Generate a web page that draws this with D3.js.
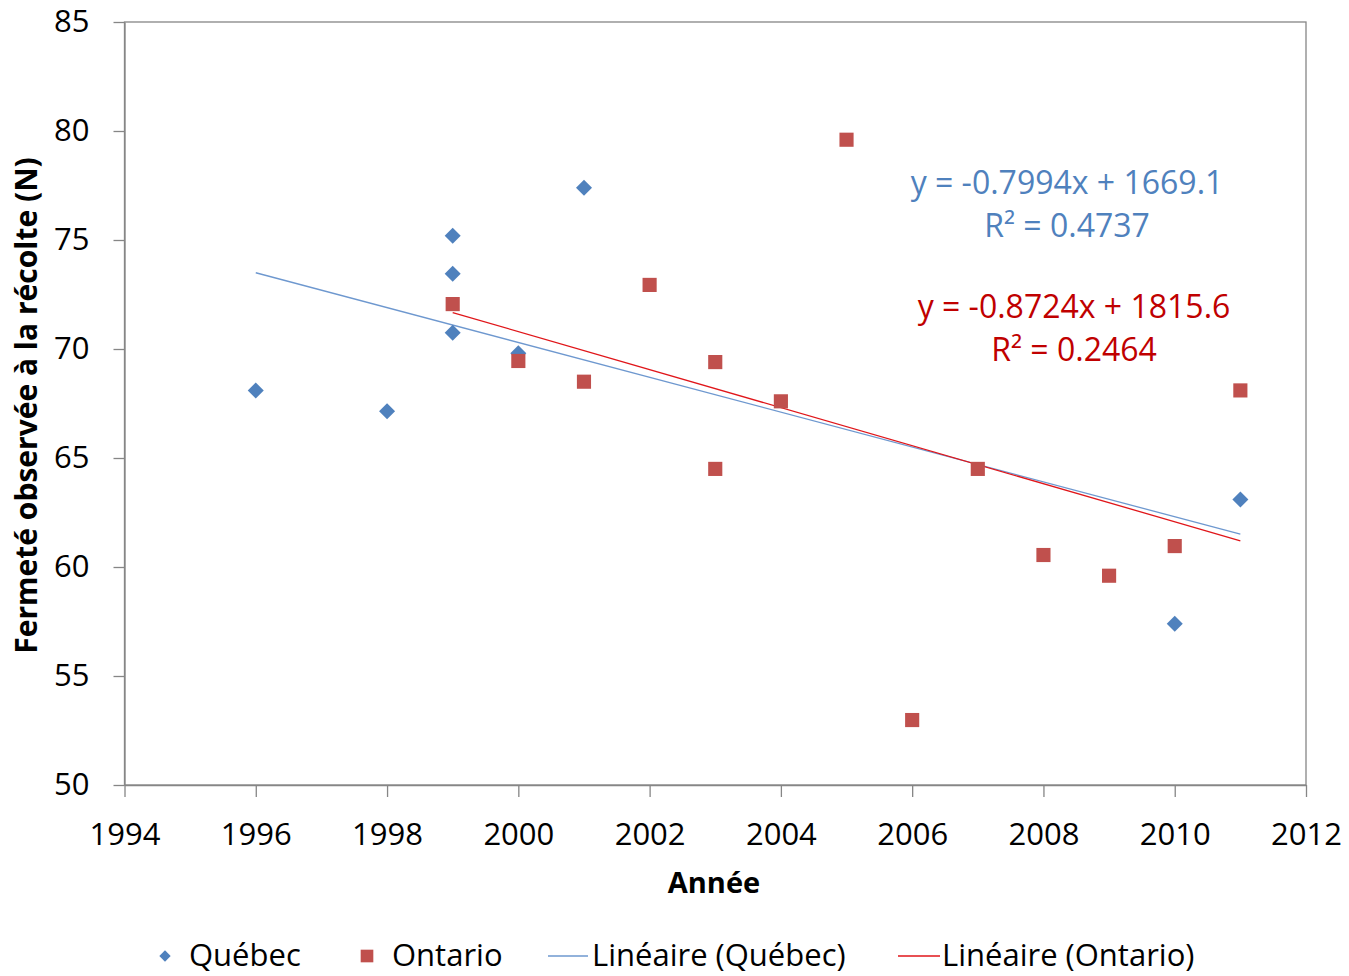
<!DOCTYPE html>
<html>
<head>
    <meta charset="utf-8">
    <title>Fermeté observée à la récolte</title>
    <script src="https://d3js.org/d3.v7.min.js"></script>
    <style>
        body { margin: 0; background: #fff; }
        text { font-family: "Open Sans", "Liberation Sans", sans-serif; }
    </style>
</head>
<body>
    <div id="my_dataviz"></div>
    <script>
        // Québec observations
        var quebecYears = [1996, 1998, 1999, 1999, 1999, 2000, 2001, 2010, 2011];
        var quebecValues = [68.1, 67.15, 75.2, 73.45, 70.75, 69.8, 77.4, 57.4, 63.1];

        // Ontario observations
        var ontarioYears = [1999, 2000, 2001, 2002, 2003, 2003, 2004, 2005, 2006, 2007, 2008, 2009, 2010, 2011];
        var ontarioValues = [72.06, 69.45, 68.5, 72.94, 69.4, 64.5, 67.6, 79.6, 52.98, 64.5, 60.55, 59.6, 60.96, 68.1];

        // linear trends (slope, intercept, r²)
        var quebecFit = [-0.7994, 1669.1, 0.4737];
        var ontarioFit = [-0.8724, 1815.6, 0.2464];

        var xTicks = [1994, 1996, 1998, 2000, 2002, 2004, 2006, 2008, 2010, 2012];
        var yTicks = [50, 55, 60, 65, 70, 75, 80, 85];

        var margin = {top: 22, right: 43, bottom: 191, left: 124.5},
            width = 1349 - margin.left - margin.right,
            height = 976 - margin.top - margin.bottom;

        var blue = "#4F81BD", red = "#C0504D";

        var svgRoot = d3.select("#my_dataviz")
            .append("svg")
                .attr("width", 1349)
                .attr("height", 976);
        var svg = svgRoot.append("g")
                .attr("transform", "translate(" + margin.left + "," + margin.top + ")");

        var x = d3.scaleLinear().domain([1994, 2012]).range([0, width]);
        var y = d3.scaleLinear().domain([50, 85]).range([height, 0]);

        // plot frame
        svg.append("rect")
            .attr("x", 0).attr("y", 0)
            .attr("width", width).attr("height", height)
            .attr("fill", "none")
            .attr("stroke", "#868686")
            .attr("stroke-width", 1.3);

        var yAxis = svg.append("g")
            .call(d3.axisLeft(y).tickValues(yTicks).tickSize(11).tickPadding(24).tickSizeOuter(0));
        var xAxis = svg.append("g")
            .attr("transform", "translate(0," + height + ")")
            .call(d3.axisBottom(x).tickValues(xTicks).tickFormat(d3.format("d")).tickSize(12).tickPadding(26).tickSizeOuter(0));

        [yAxis, xAxis].forEach(function(a) {
            a.selectAll("path, line").attr("stroke", "#868686").attr("stroke-width", 1.3);
            a.selectAll("text")
                .style("font-size", "31px")
                .attr("fill", "#000");
        });

        svgRoot.append("text")
            .attr("transform", "translate(37," + (margin.top + height / 2 + 2) + ") rotate(-90)")
            .style("text-anchor", "middle")
            .style("font-size", "30px")
            .style("font-weight", "bold")
            .text("Fermeté observée à la récolte (N)");

        svgRoot.append("text")
            .attr("x", 714)
            .attr("y", 893)
            .style("text-anchor", "middle")
            .style("font-size", "29px")
            .style("font-weight", "bold")
            .text("Année");

        // trend lines drawn from the fitted equations
        function trend(years, fit, color) {
            var x0 = d3.min(years), x1 = d3.max(years);
            svg.append("line")
                .attr("x1", x(x0)).attr("y1", y(fit[0] * x0 + fit[1]))
                .attr("x2", x(x1)).attr("y2", y(fit[0] * x1 + fit[1]))
                .attr("stroke", color)
                .attr("stroke-width", 1.3);
        }
        trend(quebecYears, quebecFit, "#6E98CF");
        trend(ontarioYears, ontarioFit, "#E0161A");

        var diamond = d3.symbol().type(d3.symbolSquare).size(128);
        var square = d3.symbol().type(d3.symbolSquare).size(200);

        svg.selectAll(".qc")
            .data(quebecYears)
            .enter()
            .append("path")
                .attr("class", "qc")
                .attr("d", diamond)
                .attr("transform", function(d, i) { return "translate(" + x(d) + "," + y(quebecValues[i]) + ") rotate(45)"; })
                .attr("fill", blue);

        svg.selectAll(".on")
            .data(ontarioYears)
            .enter()
            .append("path")
                .attr("class", "on")
                .attr("d", square)
                .attr("transform", function(d, i) { return "translate(" + x(d) + "," + y(ontarioValues[i]) + ")"; })
                .attr("fill", red);

        // equation labels
        function equation(fit, cx, cy, color) {
            svgRoot.append("text")
                .attr("x", cx).attr("y", cy)
                .style("text-anchor", "middle")
                .style("font-size", "32px")
                .attr("fill", color)
                .text("y = " + fit[0] + "x + " + fit[1].toFixed(1));
            svgRoot.append("text")
                .attr("x", cx).attr("y", cy + 43)
                .style("text-anchor", "middle")
                .style("font-size", "32px")
                .attr("fill", color)
                .text("R² = " + fit[2]);
        }
        equation(quebecFit, 1067, 194, blue);
        equation(ontarioFit, 1074, 318, "#C00000");

        // legend
        var legend = svgRoot.append("g").attr("transform", "translate(0,956)");
        legend.append("path")
            .attr("d", d3.symbol().type(d3.symbolSquare).size(64))
            .attr("transform", "translate(165,0) rotate(45)")
            .attr("fill", blue);
        legend.append("path")
            .attr("d", d3.symbol().type(d3.symbolSquare).size(160))
            .attr("transform", "translate(367,0)")
            .attr("fill", red);
        legend.append("line")
            .attr("x1", 548).attr("x2", 588).attr("y1", 0).attr("y2", 0)
            .attr("stroke", "#6E98CF").attr("stroke-width", 1.3);
        legend.append("line")
            .attr("x1", 898).attr("x2", 940).attr("y1", 0).attr("y2", 0)
            .attr("stroke", "#E0161A").attr("stroke-width", 1.3);
        var labels = [["Québec", 189], ["Ontario", 392], ["Linéaire (Québec)", 592], ["Linéaire (Ontario)", 942]];
        labels.forEach(function(l) {
            legend.append("text")
                .attr("x", l[1]).attr("y", 10)
                .style("font-size", "31px")
                .text(l[0]);
        });
    </script>
</body>
</html>
